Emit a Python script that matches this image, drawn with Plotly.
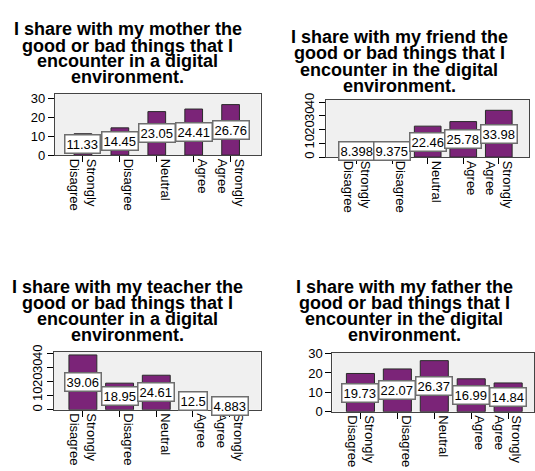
import plotly.graph_objects as go

categories = ["Strongly<br>Disagree", "Disagree<br> ", "Neutral<br> ", "Agree<br> ", "Strongly<br>Agree"]

mother_values = [11.33, 14.45, 23.05, 24.41, 26.76]
friend_values = [8.398, 9.375, 22.46, 25.78, 33.98]
teacher_values = [39.06, 18.95, 24.61, 12.5, 4.883]
father_values = [19.73, 22.07, 26.37, 16.99, 14.84]

mother_title = ["I share with my mother the", "good or bad things that I",
                "encounter in a digital", "environment."]
friend_title = ["I share with my friend the", "good or bad things that I",
                "encounter in the digital", "environment."]
teacher_title = ["I share with my teacher the", "good or bad things that I",
                 "encounter in a digital", "environment."]
father_title = ["I share with my father the", "good or bad things that I",
                "encounter in the digital", "environment."]

W, H = 535, 471
FONT = "Liberation Sans, Arial, sans-serif"
BAR = "#7B2478"

panels = [
    dict(vals=mother_values, title=mother_title, box=(55, 261, 90, 153), xr=[-0.76, 4.81], yr=[0, 32.3],
         bw=0.48, yang=0, tx=128, ty=[23, 40, 56, 72]),
    dict(vals=friend_values, title=friend_title, box=(327, 530, 96, 155), xr=[-0.85, 4.85], yr=[0, 41.5],
         bw=0.75, yang=-90, tx=400, ty=[31, 48, 65, 82]),
    dict(vals=teacher_values, title=teacher_title, box=(54, 261, 356, 416), xr=[-0.79, 4.84], yr=[0, 41.4],
         bw=0.76, yang=-90, tx=128, ty=[289, 306, 322, 339]),
    dict(vals=father_values, title=father_title, box=(333, 535, 357, 418), xr=[-0.76, 4.7], yr=[0, 30.5],
         bw=0.76, yang=0, tx=405, ty=[289, 306, 322, 339]),
]

fig = go.Figure()
annotations = []
layout_axes = {}

for i, p in enumerate(panels, start=1):
    xa = "x" if i == 1 else f"x{i}"
    ya = "y" if i == 1 else f"y{i}"
    xs = list(range(len(categories)))
    fig.add_trace(go.Bar(
        x=xs, y=p["vals"], xaxis=xa, yaxis=ya, width=p["bw"],
        marker=dict(color=BAR, line=dict(color="#2a2a2a", width=1)),
        showlegend=False, hoverinfo="skip",
    ))
    l, r, t, b = p["box"]
    xkey = "xaxis" if i == 1 else f"xaxis{i}"
    ykey = "yaxis" if i == 1 else f"yaxis{i}"
    layout_axes[xkey] = dict(
        domain=[l / W, min(r / W, 1.0)], anchor=ya, range=p["xr"],
        tickmode="array", tickvals=xs, ticktext=categories, tickangle=90,
        ticks="outside", ticklen=6, tickcolor="#000", tickwidth=1,
        ticklabelstandoff=-6,
        showline=True, linecolor="#444", linewidth=1, mirror=True,
        showgrid=False, zeroline=False, fixedrange=True,
        tickfont=dict(family=FONT, size=13, color="#000"),
    )
    layout_axes[ykey] = dict(
        domain=[1 - b / H, 1 - t / H], anchor=xa, range=p["yr"],
        dtick=10, tick0=0, tickangle=p["yang"],
        ticks="outside", ticklen=6, tickcolor="#000", tickwidth=1,
        showline=True, linecolor="#444", linewidth=1, mirror=True,
        showgrid=False, zeroline=False, fixedrange=True,
        tickfont=dict(family=FONT, size=13, color="#000"),
    )
    for xi, v in zip(xs, p["vals"]):
        annotations.append(dict(
            x=xi, y=v / 2, xref=xa, yref=ya, text=f"{v:.4g}", showarrow=False,
            font=dict(family=FONT, size=13, color="#000"),
            bgcolor="#ffffff", bordercolor="#6e6e6e", borderwidth=1.5, borderpad=1,
            xanchor="center", yanchor="middle",
        ))
    for line, yy in zip(p["title"], p["ty"]):
        annotations.append(dict(
            x=p["tx"] / W, y=1 - yy / H, xref="paper", yref="paper", text=f"<b>{line}</b>",
            showarrow=False, xanchor="center", yanchor="middle",
            font=dict(family=FONT, size=18, color="#000"),
        ))

fig.update_layout(
    width=W, height=H, margin=dict(l=0, r=0, t=0, b=0),
    paper_bgcolor="#ffffff", plot_bgcolor="#f0f0f0",
    annotations=annotations, bargap=0.3,
    **layout_axes,
)

fig.write_html(
    "out.html",
    config={"displayModeBar": False},
    post_script="document.body.style.margin='0px';document.body.style.overflow='hidden';",
)
